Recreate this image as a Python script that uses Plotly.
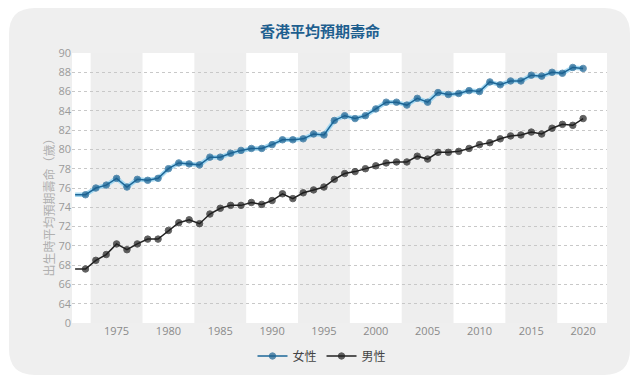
import plotly.graph_objects as go

years = list(range(1971, 2021))
female = [75.3, 75.3, 76.0, 76.3, 77.0, 76.1, 76.9, 76.8, 77.0, 78.0,
          78.6, 78.5, 78.4, 79.2, 79.2, 79.6, 79.9, 80.1, 80.1, 80.5,
          81.0, 81.0, 81.1, 81.6, 81.5, 83.0, 83.5, 83.2, 83.5, 84.2,
          84.9, 84.9, 84.6, 85.3, 84.9, 85.9, 85.7, 85.8, 86.1, 86.0,
          87.0, 86.7, 87.1, 87.1, 87.7, 87.6, 88.0, 87.9, 88.5, 88.4]
male = [67.6, 67.6, 68.5, 69.1, 70.2, 69.6, 70.2, 70.7, 70.7, 71.6,
        72.4, 72.7, 72.3, 73.3, 73.9, 74.2, 74.2, 74.5, 74.3, 74.7,
        75.4, 74.9, 75.5, 75.8, 76.1, 76.9, 77.5, 77.7, 78.0, 78.3,
        78.6, 78.7, 78.7, 79.3, 79.0, 79.7, 79.7, 79.8, 80.1, 80.5,
        80.7, 81.1, 81.4, 81.5, 81.8, 81.6, 82.2, 82.6, 82.5, 83.2]
x_ticks = [1975, 1980, 1985, 1990, 1995, 2000, 2005, 2010, 2015, 2020]
y_ticks = list(range(62, 91, 2))
y_labels = ["0"] + [str(v) for v in y_ticks[1:]]
band_centers = [1975, 1985, 1995, 2005, 2015]

W, H = 640, 380
L, R, T, B = 72, 33, 53, 57
pw, ph = W - L - R, H - T - B

def px(x):
    return (x - L) / pw

def py(y):
    return (H - B - y) / ph

def rounded(x0, y0, x1, y1, r):
    X0, X1 = px(x0), px(x1)
    Y0, Y1 = py(y0), py(y1)
    rx, ry = r / pw, r / ph
    return (f"M {X0+rx},{Y0} L {X1-rx},{Y0} Q {X1},{Y0} {X1},{Y0-ry} "
            f"L {X1},{Y1+ry} Q {X1},{Y1} {X1-rx},{Y1} L {X0+rx},{Y1} "
            f"Q {X0},{Y1} {X0},{Y1+ry} L {X0},{Y0-ry} Q {X0},{Y0} {X0+rx},{Y0} Z")

marker_sizes = [0] + [6.5] * (len(years) - 1)

fig = go.Figure()
fig.add_trace(go.Scatter(x=years, y=female, mode="lines", showlegend=False,
                         line=dict(color="#a6d8f0", width=4.5), hoverinfo="skip"))
fig.add_trace(go.Scatter(x=years, y=female, mode="lines+markers", name="女性",
                         line=dict(color="#1d6798", width=1.5),
                         marker=dict(color="#1c5f8d", size=marker_sizes)))
fig.add_trace(go.Scatter(x=years, y=male, mode="lines+markers", name="男性",
                         line=dict(color="#222222", width=1.5),
                         marker=dict(color="#1e1e1e", size=marker_sizes)))

shapes = [
    dict(type="path", xref="paper", yref="paper", path=rounded(9, 8, 630, 375, 26),
         fillcolor="#efefef", line=dict(width=0), layer="below"),
    dict(type="rect", xref="paper", yref="paper", x0=0, x1=1, y0=0, y1=1,
         fillcolor="#ffffff", line=dict(width=0), layer="below"),
]
for c in band_centers:
    shapes.append(dict(type="rect", xref="x", yref="paper", x0=c - 2.5, x1=c + 2.5,
                       y0=0, y1=1, fillcolor="#eeeeee", line=dict(width=0), layer="below"))

fig.update_layout(
    width=W, height=H,
    margin=dict(l=L, r=R, t=T, b=B, autoexpand=False),
    paper_bgcolor="#ffffff", plot_bgcolor="rgba(0,0,0,0)",
    font=dict(family="Open Sans, Noto Sans CJK TC, sans-serif", color="#888888", size=11),
    title=dict(text="<b>香港平均預期壽命</b>", x=0.5, xanchor="center",
               y=1 - 32 / H, yanchor="middle",
               font=dict(family="Noto Sans CJK TC, sans-serif", size=15, color="#1f5f8f")),
    shapes=shapes,
    showlegend=True,
    legend=dict(orientation="h", xref="container", yref="container",
                x=322 / W, xanchor="center", y=1 - 356 / H, yanchor="middle",
                bgcolor="rgba(0,0,0,0)", itemwidth=30,
                font=dict(family="Noto Sans CJK TC, sans-serif", size=12, color="#444444")),
    annotations=[dict(text="出生時平均預期壽命（歲）", xref="paper", yref="paper",
                      x=px(38), y=py(205), textangle=-90, showarrow=False,
                      font=dict(family="Noto Sans CJK TC, sans-serif", size=12, color="#b0b0b0"))],
)
fig.update_xaxes(range=[1970.7, 2022.3], tickvals=x_ticks, showgrid=False, zeroline=False,
                 showline=False, ticks="", automargin=False,
                 tickfont=dict(size=11, color="#8a8a8a"))
fig.update_yaxes(range=[62, 90], tickvals=y_ticks, ticktext=y_labels, showgrid=True,
                 gridcolor="#c8c8c8", griddash="dot", gridwidth=1, zeroline=False,
                 showline=False, ticks="", automargin=False,
                 tickfont=dict(size=11, color="#9a9a9a"))

fig.write_html("out.html", config={"displayModeBar": False},
               post_script="document.body.style.margin='0';")
